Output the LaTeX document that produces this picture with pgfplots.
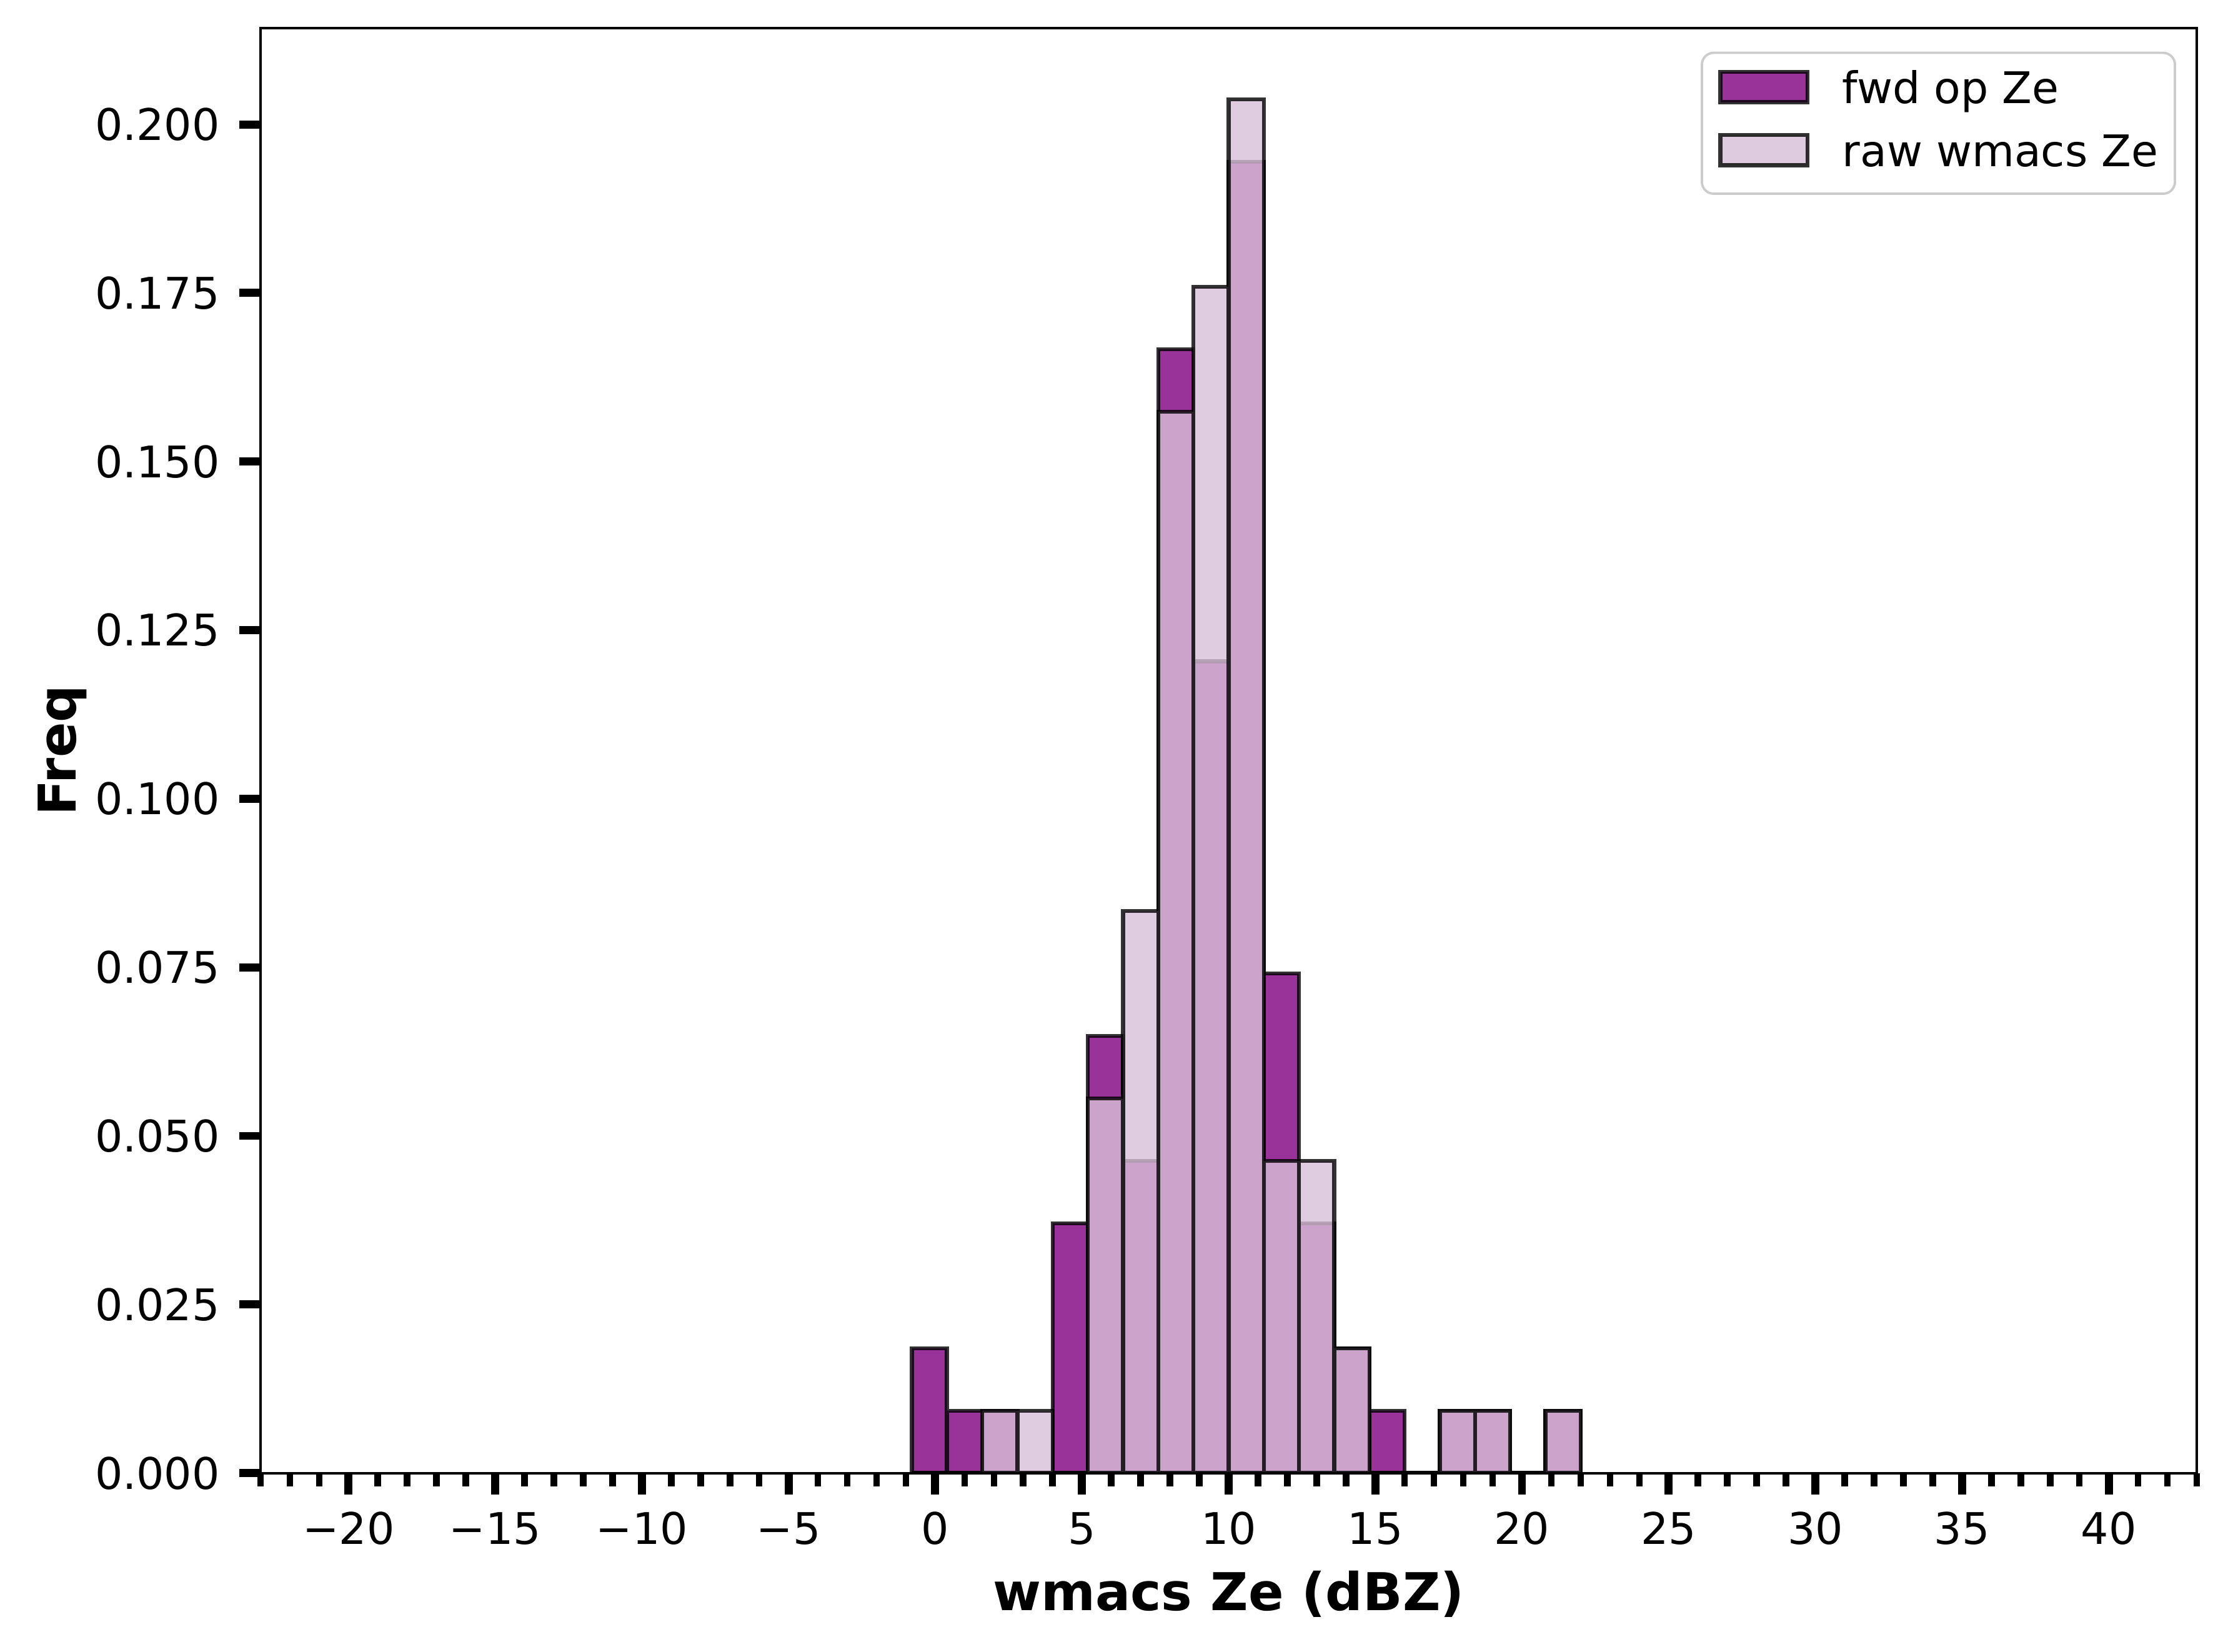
\documentclass[border=0pt]{standalone}
\usepackage{fontspec}
\setmainfont{DejaVu Sans}
\usepackage{pgfplots}
\pgfplotsset{compat=1.18}
\definecolor{fwdc}{HTML}{800080}
\definecolor{rawc}{HTML}{D8BFD8}
\definecolor{legc}{HTML}{CCCCCC}
\pgfplotsset{histleg/.style={legend image code/.code={\draw[##1, sharp corners] (0pt,-2.2pt) rectangle (18.4pt,4.2pt);}}}
\begin{document}
\begin{tikzpicture}
\begin{axis}[
  scale only axis, width=408.8pt, height=305.1pt,
  xmin=-23, xmax=43, ymin=0, ymax=0.2143,
  axis on top,
  axis line style={line width=0.53pt},
  tick align=outside, xtick pos=bottom, ytick pos=left,
  xtick={-20,-15,-10,-5,0,5,10,15,20,25,30,35,40},
  xticklabels={−20,−15,−10,−5,0,5,10,15,20,25,30,35,40},
  minor xtick={-23,-22,...,43},
  ytick={0,0.025,0.05,0.075,0.1,0.125,0.15,0.175,0.2},
  yticklabels={0.000,0.025,0.050,0.075,0.100,0.125,0.150,0.175,0.200},
  major tick length=4.5pt, minor tick length=2.8pt,
  major tick style={line width=1.7pt, black},
  minor tick style={line width=1.4pt, black},
  tick label style={font=\fontsize{9.2}{11}\selectfont, inner sep=0pt},
  xticklabel style={anchor=base, yshift=-10.5pt},
  yticklabel style={anchor=east, xshift=-3.9pt},
  legend cell align=left,
  legend style={at={(rel axis cs:1,1)}, anchor=north east, xshift=-4.35pt, yshift=-5pt,
    draw=legc, line width=0.5pt, rounded corners=2.5pt, fill=white, fill opacity=0.8, text opacity=1,
    font=\fontsize{9.2}{11}\selectfont, inner xsep=3.5pt, inner ysep=3.6pt,
    row sep=4.1pt, column sep=6.9pt,
    nodes={inner sep=0pt, text depth=2.2pt, text height=7pt}},
]
\addplot[ybar interval, fill=fwdc, fill opacity=0.8, draw=black, draw opacity=0.8, line width=0.85pt, histleg]
  coordinates {
  (-0.8,0.018519) (0.4,0.009259) (1.6,0.009259) (2.8,0) (4.0,0.037037)
  (5.2,0.064815) (6.4,0.046296) (7.6,0.166667) (8.8,0.120370) (10.0,0.194444)
  (11.2,0.074074) (12.4,0.037037) (13.6,0.018519) (14.8,0.009259) (16.0,0)
  (17.2,0.009259) (18.4,0.009259) (19.6,0) (20.8,0.009259) (22.0,0)
  };
\addlegendentry{fwd op Ze}
\addplot[ybar interval, fill=rawc, fill opacity=0.8, draw=black, draw opacity=0.8, line width=0.85pt, histleg]
  coordinates {
  (-0.8,0) (0.4,0) (1.6,0.009259) (2.8,0.009259) (4.0,0)
  (5.2,0.055556) (6.4,0.083333) (7.6,0.157407) (8.8,0.175926) (10.0,0.203704)
  (11.2,0.046296) (12.4,0.046296) (13.6,0.018519) (14.8,0) (16.0,0)
  (17.2,0.009259) (18.4,0.009259) (19.6,0) (20.8,0.009259) (22.0,0)
  };
\addlegendentry{raw wmacs Ze}
\end{axis}
\node[font=\fontsize{11}{13}\selectfont\bfseries, anchor=base] at ([yshift=-29pt]current axis.south) {wmacs Ze (dBZ)};
\node[font=\fontsize{11}{13}\selectfont\bfseries, rotate=90, anchor=base] at ([xshift=-39pt]current axis.west) {Freq};
\pgfresetboundingbox
\useasboundingbox ([xshift=-55pt, yshift=-37.7pt]current axis.south west) rectangle ([xshift=6.6pt, yshift=5.9pt]current axis.north east);
\end{tikzpicture}
\end{document}
